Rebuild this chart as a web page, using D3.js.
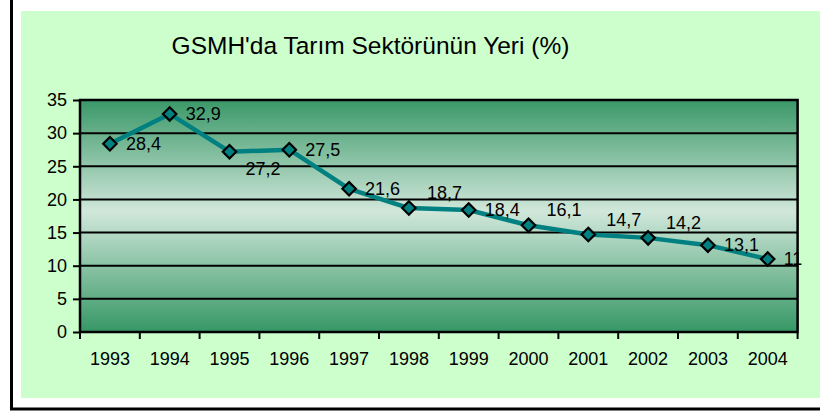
<!DOCTYPE html>
<html><head><meta charset="utf-8">
<script src="https://cdn.jsdelivr.net/npm/d3@7"></script>
<style>body{margin:0;background:#fff;} text{font-family:"Liberation Sans",Arial,sans-serif;fill:#000;}</style>
</head><body><svg id="c" width="820" height="412"></svg>
<script>
const title = "GSMH'da Tarım Sektörünün Yeri (%)";
const years = ["1993","1994","1995","1996","1997","1998","1999","2000","2001","2002","2003","2004"];
const values = [28.4, 32.9, 27.2, 27.5, 21.6, 18.7, 18.4, 16.1, 14.7, 14.2, 13.1, 11];
const valueLabels = ["28,4","32,9","27,2","27,5","21,6","18,7","18,4","16,1","14,7","14,2","13,1","11"];
const labelPlacement = ["right","right","below","right","right","above","right","above","above","above","right","right"];
const yTicks = [0,5,10,15,20,25,30,35];

const svg = d3.select("#c");
svg.append("rect").attr("x",21).attr("y",11).attr("width",799).attr("height",387).attr("fill","#ccffcc");
svg.append("line").attr("x1",11.5).attr("x2",11.5).attr("y1",0).attr("y2",410).attr("stroke","#000").attr("stroke-width",3);
svg.append("line").attr("x1",10).attr("x2",820).attr("y1",409).attr("y2",409).attr("stroke","#000").attr("stroke-width",3);

const L=80, R=797.6, T=100, B=332;
const x = d3.scaleBand().domain(years).range([L,R]).padding(0);
const y = d3.scaleLinear().domain([0,35]).range([B,T]);

const defs = svg.append("defs");
const g = defs.append("linearGradient").attr("id","pg").attr("x1",0).attr("y1",0).attr("x2",0).attr("y2",1);
g.append("stop").attr("offset","0%").attr("stop-color","#3a9868");
g.append("stop").attr("offset","48%").attr("stop-color","#d0e7da");
g.append("stop").attr("offset","100%").attr("stop-color","#369765");
svg.append("rect").attr("x",L).attr("y",T).attr("width",R-L).attr("height",B-T).attr("fill","url(#pg)");

svg.append("g").selectAll("line").data(yTicks).join("line")
  .attr("x1",L).attr("x2",R).attr("y1",d=>y(d)).attr("y2",d=>y(d))
  .attr("stroke","#000").attr("stroke-width",2);
svg.append("rect").attr("x",L).attr("y",T).attr("width",R-L).attr("height",B-T)
  .attr("fill","none").attr("stroke","#000").attr("stroke-width",2.5);

const ya = svg.append("g").attr("transform",`translate(${L},0)`)
  .call(d3.axisLeft(y).tickValues(yTicks).tickSize(7).tickPadding(6));
ya.select(".domain").remove();
ya.selectAll("line").attr("stroke","#000").attr("stroke-width",2);
ya.selectAll("text").style("font-size","18px").attr("font-family","Liberation Sans, Arial").attr("fill","#000");

const xa = svg.append("g").attr("transform",`translate(0,${B})`)
  .call(d3.axisBottom(x).tickSize(0).tickPadding(20));
xa.select(".domain").remove();
xa.selectAll("text").style("font-size","18px").attr("font-family","Liberation Sans, Arial").attr("fill","#000");
const bounds = years.map(d=>x(d)).concat([x.range()[1]]);
svg.append("g").selectAll("line").data(bounds).join("line")
  .attr("x1",d=>d).attr("x2",d=>d).attr("y1",B).attr("y2",B+7)
  .attr("stroke","#000").attr("stroke-width",2);

svg.append("text").attr("x",370.5).attr("y",53.5).attr("text-anchor","middle")
  .style("font-size","24.5px").text(title);

const cx = d=>x(d)+x.bandwidth()/2;
const line = d3.line().x((d,i)=>cx(years[i])).y(d=>y(d));
svg.append("path").datum(values).attr("d",line).attr("fill","none")
  .attr("stroke","#008080").attr("stroke-width",4.5).attr("stroke-linejoin","round");

svg.append("g").selectAll("path").data(values).join("path")
  .attr("transform",(d,i)=>`translate(${cx(years[i])},${y(d)})`)
  .attr("d",d3.symbol().type(d3.symbolDiamond2).size(115))
  .attr("fill","#008080").attr("stroke","#000").attr("stroke-width",2.2);

const off = {right:[16,6], below:[16,23], above:[18,-9]};
svg.append("g").selectAll("text").data(values).join("text")
  .attr("x",(d,i)=>cx(years[i])+off[labelPlacement[i]][0])
  .attr("y",(d,i)=>y(d)+off[labelPlacement[i]][1])
  .style("font-size","18px").text((d,i)=>valueLabels[i]);
</script></body></html>
